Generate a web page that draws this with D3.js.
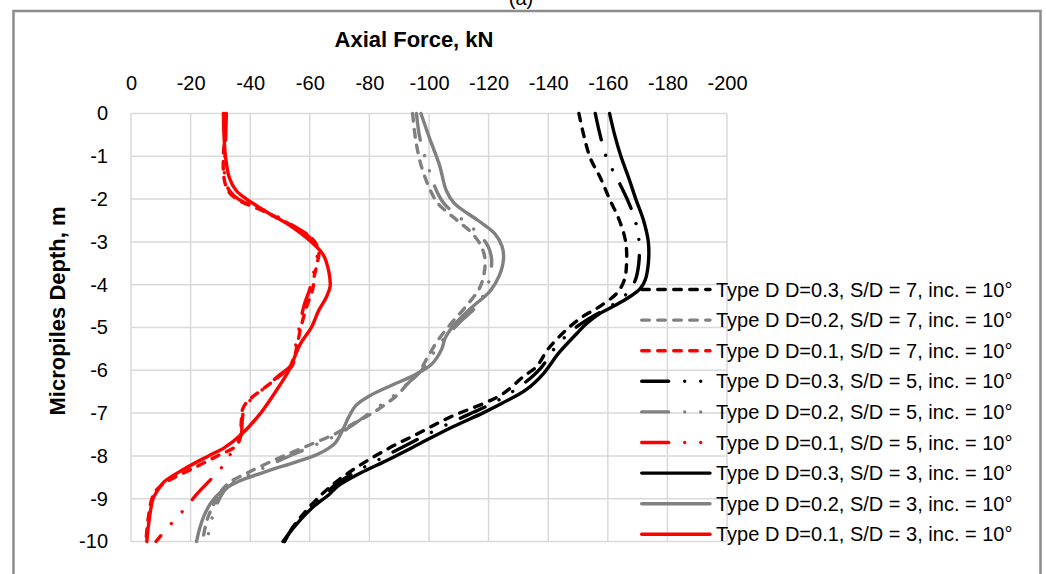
<!DOCTYPE html>
<html>
<head>
<meta charset="utf-8">
<script src="https://cdn.jsdelivr.net/npm/d3@7"></script>
<style>
  body { margin: 0; background: #fff; }
  text { font-family: "Liberation Sans", Arial, sans-serif; }
</style>
</head>
<body>
<svg id="chart" width="1046" height="574"></svg>
<script>
// Axis ticks
const forceTicks = [0, -20, -40, -60, -80, -100, -120, -140, -160, -180, -200];
const depthTicks = [0, -1, -2, -3, -4, -5, -6, -7, -8, -9, -10];

// Axial force profiles: [depth (m), axial force (kN)]
// D = 0.3 m
const d03_sd7 = [[0,-150.3],[-1,-153.9],[-1.5,-157.5],[-2,-160.6],[-2.5,-163.9],[-3,-166],[-3.5,-166.3],[-3.9,-165.5],[-4.2,-163],[-4.5,-157.5],[-4.75,-151.5],[-5.06,-146],[-5.5,-140],[-5.92,-136],[-6.15,-131.6],[-6.54,-125],[-6.77,-118.5],[-7.08,-107.5],[-7.47,-96.5],[-7.86,-85.5],[-8.3,-75],[-8.6,-69],[-8.9,-64],[-9.34,-58],[-9.7,-54],[-10,-51.5]];
const d03_sd5 = [[0,-155.8],[-1,-159.4],[-1.5,-163],[-2,-166.5],[-2.5,-169.2],[-3,-170.5],[-3.5,-170.4],[-3.9,-169.2],[-4.2,-166.5],[-4.5,-161],[-4.8,-153.5],[-5.1,-147.5],[-5.5,-142],[-5.95,-137.5],[-6.3,-132],[-6.65,-124.5],[-6.9,-117.5],[-7.2,-108],[-7.6,-96.5],[-8,-85.5],[-8.35,-76],[-8.65,-69],[-8.9,-65],[-9.3,-59],[-9.65,-54.5],[-10,-51.5]];
const d03_sd3 = [[0,-160.6],[-0.5,-162.3],[-1,-164.4],[-1.5,-167],[-2,-169.4],[-2.5,-172],[-3,-173.6],[-3.5,-173.6],[-3.9,-172.5],[-4.1,-170.8],[-4.3,-167],[-4.5,-162],[-4.67,-157.4],[-4.9,-153],[-5.14,-149.6],[-5.6,-143.5],[-6.07,-138.5],[-6.46,-132.5],[-6.77,-124.5],[-7,-118],[-7.32,-108],[-7.71,-97],[-8.1,-86],[-8.4,-77],[-8.7,-69.5],[-8.9,-66.5],[-9.2,-61],[-9.6,-55.5],[-10,-51]];
// D = 0.2 m
const d02_sd7 = [[0,-94.5],[-0.6,-95.5],[-1.2,-97.3],[-1.8,-100.5],[-2.1,-103],[-2.5,-109.5],[-2.8,-114.5],[-3.1,-117.5],[-3.4,-118.8],[-3.8,-118.3],[-4.1,-116.8],[-4.5,-112.5],[-4.9,-107.5],[-5.3,-103],[-5.7,-99.5],[-6,-97],[-6.3,-93],[-6.6,-89],[-7,-81],[-7.25,-74.5],[-7.5,-68],[-7.8,-58],[-8.1,-48],[-8.4,-39],[-8.6,-33.5],[-8.8,-30.5],[-9.1,-28],[-9.5,-25.5],[-10,-24]];
const d02_sd5 = [[0,-95.8],[-0.6,-97],[-1.2,-99.5],[-1.8,-102.5],[-2.1,-105],[-2.5,-111.5],[-2.8,-116.5],[-3.1,-119.8],[-3.4,-121],[-3.8,-120.5],[-4.1,-119.2],[-4.5,-116],[-4.9,-110],[-5.3,-104.5],[-5.7,-100.5],[-6,-97.5],[-6.3,-93],[-6.6,-88],[-7,-80],[-7.25,-75],[-7.5,-69.5],[-7.8,-60],[-8.1,-50],[-8.4,-41],[-8.6,-35],[-8.8,-31.5],[-9.1,-29],[-9.5,-27],[-10,-25.5]];
const d02_sd3 = [[0,-97.3],[-0.6,-100.3],[-1.2,-103.5],[-1.8,-105.8],[-2.1,-108.5],[-2.5,-116.5],[-2.8,-122],[-3.1,-124.5],[-3.4,-125],[-3.8,-123.5],[-4.15,-120.5],[-4.55,-114],[-4.95,-108.3],[-5.25,-105.4],[-5.5,-104.3],[-5.85,-101],[-6.1,-95.5],[-6.35,-87.5],[-6.6,-80],[-6.82,-75.5],[-7.1,-73],[-7.4,-71],[-7.7,-68.5],[-7.95,-63],[-8.15,-55],[-8.35,-46],[-8.6,-36],[-8.85,-30],[-9.1,-26.8],[-9.4,-24.5],[-9.7,-23],[-10,-22]];
// D = 0.1 m
const d01_sd7 = [[0,-31.7],[-0.5,-31.5],[-1,-31],[-1.5,-31.2],[-1.8,-32.5],[-2,-35.5],[-2.3,-45],[-2.6,-53.5],[-2.9,-60.5],[-3.2,-63],[-3.5,-62.5],[-3.8,-61.5],[-4.1,-61],[-4.5,-59],[-5,-57],[-5.5,-55.5],[-5.9,-54],[-6.1,-50.5],[-6.4,-45],[-6.7,-39.5],[-6.9,-37.5],[-7.2,-37],[-7.5,-36.8],[-7.75,-35.5],[-8,-29],[-8.3,-20.5],[-8.6,-12],[-8.8,-8.5],[-9,-7],[-9.5,-5.7],[-10,-5]];
const d01_sd5 = [[0,-32],[-0.5,-31.8],[-1,-31.5],[-1.5,-31.5],[-1.8,-33],[-2,-36],[-2.3,-46],[-2.6,-54],[-2.9,-60],[-3.2,-62.5],[-3.5,-62],[-3.8,-61],[-4.1,-60],[-4.5,-58],[-5,-56.5],[-5.5,-55],[-5.9,-53.5],[-6.1,-50],[-6.4,-45],[-6.7,-40],[-6.9,-38],[-7.2,-37.3],[-7.5,-37],[-7.8,-35],[-8,-33],[-8.13,-32],[-8.4,-28.8],[-8.9,-22],[-9.16,-19],[-9.43,-15.5],[-9.7,-12],[-10,-8.4]];
const d01_sd3 = [[0,-31],[-0.5,-31.2],[-1,-31.7],[-1.5,-33],[-1.8,-35.3],[-2,-38.8],[-2.3,-45.5],[-2.6,-53],[-3,-60.5],[-3.3,-64.5],[-3.7,-66.4],[-4.05,-66.8],[-4.3,-65.5],[-4.6,-63],[-5,-60.5],[-5.4,-56.7],[-6,-53],[-6.5,-48.5],[-7,-43.5],[-7.5,-37],[-7.8,-31.5],[-8,-26],[-8.3,-18],[-8.6,-11.2],[-8.8,-9],[-9,-7.4],[-9.5,-6.1],[-10,-5.3]];

const seriesNames = [
  "Type D D=0.3, S/D = 7, inc. = 10°",
  "Type D D=0.2, S/D = 7, inc. = 10°",
  "Type D D=0.1, S/D = 7, inc. = 10°",
  "Type D D=0.3, S/D = 5, inc. = 10°",
  "Type D D=0.2, S/D = 5, inc. = 10°",
  "Type D D=0.1, S/D = 5, inc. = 10°",
  "Type D D=0.3, S/D = 3, inc. = 10°",
  "Type D D=0.2, S/D = 3, inc. = 10°",
  "Type D D=0.1, S/D = 3, inc. = 10°"
];
const seriesData = [d03_sd7, d02_sd7, d01_sd7, d03_sd5, d02_sd5, d01_sd5, d03_sd3, d02_sd3, d01_sd3];

// Line styles
const BLACK = "#000000", GRAY = "#808080", RED = "#ff0000";
const LINE_WIDTH = 3.4;
const DASH = "7.6,8.4";
const LONG_DASH_DOT_DOT = "27,16,0.01,16,0.01,16";
const seriesColors = [BLACK, GRAY, RED, BLACK, GRAY, RED, BLACK, GRAY, RED];
const seriesDashes = [DASH, DASH, DASH, LONG_DASH_DOT_DOT, LONG_DASH_DOT_DOT, LONG_DASH_DOT_DOT, null, null, null];

const svg = d3.select("#chart");
const plot = { left: 131, right: 727, top: 113.5, bottom: 541.5 };

const x = d3.scaleLinear().domain([0, -200]).range([plot.left, plot.right]);
const y = d3.scaleLinear().domain([0, -10]).range([plot.top, plot.bottom]);

// Outer frame and panel tag
svg.append("rect")
  .attr("x", 13.5).attr("y", 11).attr("width", 1027).attr("height", 620)
  .attr("fill", "none").attr("stroke", "#8c8c8c").attr("stroke-width", 2.5);
svg.append("text")
  .attr("x", 521).attr("y", 5).attr("text-anchor", "middle")
  .attr("font-size", 20).attr("fill", "#000").text("(a)");

// Gridlines
const grid = svg.append("g").attr("stroke", "#d9d9d9").attr("stroke-width", 1.5);
grid.selectAll("line.v").data(forceTicks).join("line")
  .attr("x1", d => x(d)).attr("x2", d => x(d))
  .attr("y1", plot.top).attr("y2", plot.bottom);
grid.selectAll("line.h").data(depthTicks).join("line")
  .attr("x1", plot.left).attr("x2", plot.right)
  .attr("y1", d => y(d)).attr("y2", d => y(d));

// Axes (labels only)
const xAxis = svg.append("g")
  .attr("transform", `translate(0,${plot.top})`)
  .call(d3.axisTop(x).tickValues(forceTicks).tickSize(0).tickPadding(24).tickFormat(d => String(d)));
const yAxis = svg.append("g")
  .attr("transform", `translate(${plot.left},0)`)
  .call(d3.axisLeft(y).tickValues(depthTicks).tickSize(0).tickPadding(23).tickFormat(d => String(d)));
[xAxis, yAxis].forEach(g => {
  g.select(".domain").remove();
  g.selectAll("text").attr("font-size", 20).attr("fill", "#000")
    .attr("font-family", '"Liberation Sans", Arial, sans-serif');
});

// Axis titles
svg.append("text")
  .attr("x", 414).attr("y", 47).attr("text-anchor", "middle")
  .attr("font-size", 22).attr("font-weight", "bold").text("Axial Force, kN");
svg.append("text")
  .attr("transform", "translate(65,311) rotate(-90)")
  .attr("text-anchor", "middle")
  .attr("font-size", 22).attr("font-weight", "bold").text("Micropiles Depth, m");

// Profiles
const line = d3.line()
  .x(d => x(d[1]))
  .y(d => y(d[0]))
  .curve(d3.curveCatmullRom.alpha(0.5));

const lines = svg.append("g").attr("fill", "none");
seriesData.forEach((data, i) => {
  lines.append("path")
    .datum(data)
    .attr("d", line)
    .attr("stroke", seriesColors[i])
    .attr("stroke-width", LINE_WIDTH)
    .attr("stroke-linecap", "round")
    .attr("stroke-linejoin", "round")
    .attr("stroke-dasharray", seriesDashes[i]);
});

// Legend
const legend = svg.append("g");
seriesNames.forEach((name, i) => {
  const ly = 289.5 + i * 30.6;
  legend.append("line")
    .attr("x1", 641.7).attr("x2", 710).attr("y1", ly).attr("y2", ly)
    .attr("stroke", seriesColors[i]).attr("stroke-width", LINE_WIDTH)
    .attr("stroke-linecap", "round")
    .attr("stroke-dasharray", seriesDashes[i]);
  legend.append("text")
    .attr("x", 716).attr("y", ly).attr("dy", "0.35em")
    .attr("font-size", 20).attr("fill", "#000").text(name);
});
</script>
</body>
</html>
